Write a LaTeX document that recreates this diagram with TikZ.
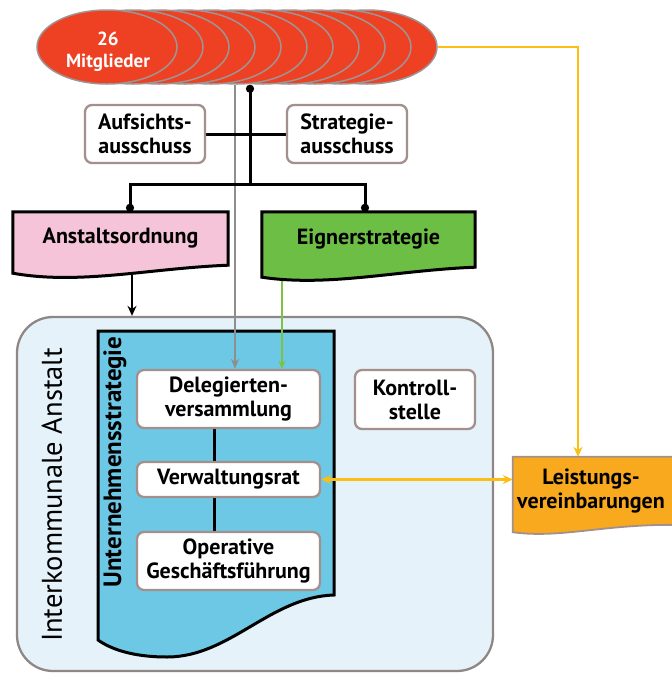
\documentclass[tikz,border=0pt]{standalone}
\usepackage{fontspec}
\setmainfont{PT Sans}
\usetikzlibrary{shapes.geometric,arrows.meta,calc}
\pgfdeclarelayer{bglayer}
\pgfdeclarelayer{edgelayer}
\pgfdeclarelayer{shapelayer}
\pgfsetlayers{bglayer,edgelayer,shapelayer,main}
\definecolor{mred}{HTML}{EE4123}
\definecolor{mborder}{HTML}{9E9494}
\definecolor{boxborder}{HTML}{A38F8B}
\definecolor{pinkfill}{HTML}{F6C4D8}
\definecolor{greenfill}{HTML}{6DBE45}
\definecolor{usblue}{HTML}{6DC8E5}
\definecolor{ikafill}{HTML}{E5F2FA}
\definecolor{ikaborder}{HTML}{8F8783}
\definecolor{amber}{HTML}{F8A91D}
\definecolor{yline}{HTML}{FDBE14}
\definecolor{gline}{HTML}{7DC242}
\definecolor{grline}{HTML}{8E8E8E}
\newcommand{\boxfont}{\fontsize{22}{24}\selectfont\bfseries}
\begin{document}
\begin{tikzpicture}[x=1pt,y=-1pt,
  mitglied/.style={ellipse, draw=mborder, line width=1.5pt, fill=mred, minimum width=140pt, minimum height=74pt, inner sep=0pt},
  mtext/.style={text=white, align=center, inner sep=0pt, font=\fontsize{19}{22}\selectfont\bfseries},
  rbox/.style={draw=boxborder, line width=2.3pt, fill=white, rounded corners=7pt, align=center, font=\boxfont, inner sep=0pt},
  doctext/.style={inner sep=0pt, align=center, font=\boxfont},
  blkline/.style={draw=black, line width=3pt},
  blkarrow/.style={draw=black, line width=2.5pt, -{Stealth[length=10pt,width=9pt]}},
  grayarrow/.style={draw=grline, line width=2.3pt, -{Stealth[length=10pt,width=8pt]}},
  greenarrow/.style={draw=gline, line width=2.3pt, -{Stealth[length=8pt,width=7pt]}},
  yarrow/.style={draw=yline, line width=2.8pt, -{Stealth[length=10pt,width=9pt]}},
  ydouble/.style={draw=yline, line width=2.8pt, {Stealth[length=10pt,width=9pt]}-{Stealth[length=10pt,width=9pt]}},
  dotstart/.style={{Circle[length=8pt]}-},
  dotend/.style={-{Circle[length=8pt]}}
]
\useasboundingbox (0,0) rectangle (672,673);

% members
\foreach \i in {10,9,...,1} {
  \node[mitglied] (m\i) at ({107+26*\i},47) {};
}
\node[mitglied] (m0) at (107,47) {};
\node[mtext] (m0text) at (108,52) {26\\Mitglieder};

% committees
\node[rbox, minimum width=120pt, minimum height=58pt] (aufs) at (145,134) {Aufsichts-\\ausschuss};
\node[rbox, minimum width=120pt, minimum height=58pt] (strat) at (347,134) {Strategie-\\ausschuss};

% documents
\node[doctext, minimum width=215pt, minimum height=53pt] (anst) at (120.5,238.5) {Anstaltsordnung};
\node[doctext, minimum width=213pt, minimum height=55pt] (eign) at (368.5,239.5) {Eignerstrategie};
\node[doctext, minimum width=156pt, minimum height=68pt] (leist) at (591,491) {Leistungs-\\vereinbarungen};

\begin{pgfonlayer}{shapelayer}
  \path[fill=pinkfill, draw=black, line width=3pt, line join=miter]
    (anst.north west) -- (anst.north east) -- (anst.south east)
    .. controls ($(anst.south east)+(-78,3)$) and ($(anst.south west)+(67,20)$) ..
    ($(anst.south west)+(0,8)$) -- cycle;
  \path[fill=greenfill, draw=black, line width=3pt, line join=miter]
    (eign.north west) -- (eign.north east) -- (eign.south east)
    .. controls ($(eign.south east)+(-78,3)$) and ($(eign.south west)+(67,20)$) ..
    ($(eign.south west)+(0,10)$) -- cycle;
  \path[fill=amber, draw=boxborder, line width=1.8pt]
    (leist.north west) -- ($(leist.north east)+(20,0)$) -- ($(leist.south east)+(20,0)$)
    .. controls ($(leist.south east)+(-60,-3)$) and ($(leist.south west)+(50,14)$) ..
    ($(leist.south west)+(0,7)$) -- cycle;
\end{pgfonlayer}

% institution
\begin{pgfonlayer}{bglayer}
  \node[draw=ikaborder, fill=ikafill, line width=2.3pt, rounded corners=36pt, minimum width=476pt, minimum height=354pt, inner sep=0pt] (ika) at (255,494) {};
  \path[fill=usblue, draw=black, line width=3pt, line join=miter]
    (98,331) -- (334,331) -- (334,595)
    .. controls (270,597) and (230,657) .. (167,657)
    .. controls (140,657) and (115,652) .. (98,640) -- cycle;
\end{pgfonlayer}
\node[rotate=90, inner sep=0pt, font=\fontsize{28.5}{32}\selectfont] (ikalabel) at (52,495) {Interkommunale Anstalt};
\node[rotate=90, inner sep=0pt, font=\fontsize{25}{28}\selectfont\bfseries] (uslabel) at (115,462) {Unternehmensstrategie};

\node[rbox, minimum width=183pt, minimum height=58pt] (deleg) at (228.5,399) {Delegierten-\\versammlung};
\node[rbox, minimum width=183pt, minimum height=35pt] (verw) at (228.5,479.5) {Verwaltungsrat};
\node[rbox, minimum width=183pt, minimum height=58pt] (oper) at (228.5,561) {Operative\\Geschäftsführung};
\node[rbox, minimum width=120pt, minimum height=59pt] (kontr) at (415,399.5) {Kontroll-\\stelle};

% helper coordinates
\coordinate (ax) at (132,0);
\coordinate (gx) at (235,0);
\coordinate (grx) at (282,0);
\coordinate (jx) at (250,184);
\coordinate (lx) at (214,0);
\coordinate (yx) at (578,0);

\begin{pgfonlayer}{edgelayer}
  \draw[grayarrow] (m5.south -| gx) -- (deleg.north -| gx);
  \draw[blkline, dotstart] (m5.south -| jx) -- (jx);
  \draw[blkline] (aufs.east) -- (strat.west);
  \draw[blkline, dotend] (jx) -| ([xshift=9.5pt]anst.north);
  \draw[blkline, dotend] (jx) -| ([xshift=-3.5pt]eign.north);
  \draw[blkarrow] (anst.south -| ax) -- (ika.north -| ax);
  \draw[greenarrow] (eign.south -| grx) -- (deleg.north -| grx);
  \draw[yarrow] (m10.east) -| (leist.north -| yx);
  \draw[ydouble] (verw.east) -- (verw.east -| leist.west);
  \draw[blkline] (deleg.south -| lx) -- (verw.north -| lx);
  \draw[blkline] (verw.south -| lx) -- (oper.north -| lx);
\end{pgfonlayer}
\end{tikzpicture}
\end{document}
